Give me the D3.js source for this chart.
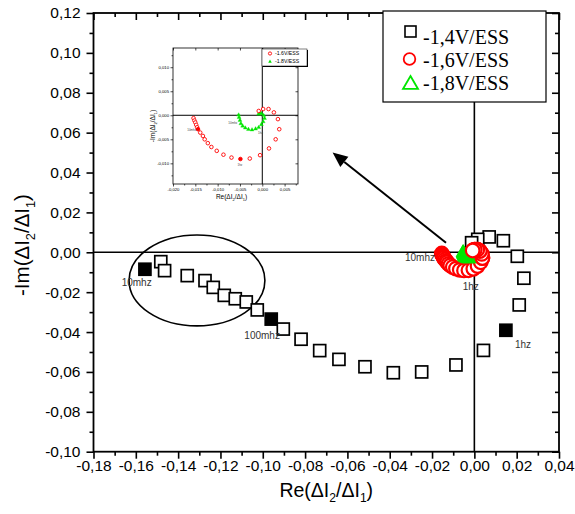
<!DOCTYPE html>
<html><head><meta charset="utf-8">
<script src="https://cdn.jsdelivr.net/npm/d3@7"></script>
<style>body{margin:0;background:#fff}svg{display:block}</style>
</head><body><svg id="c" width="575" height="514"></svg>
<script>
// ---- main axes ----
const xMajorTicks = [-0.18,-0.16,-0.14,-0.12,-0.10,-0.08,-0.06,-0.04,-0.02,0.00,0.02,0.04];
const yMajorTicks = [-0.10,-0.08,-0.06,-0.04,-0.02,0.00,0.02,0.04,0.06,0.08,0.10,0.12];
const xMinorTicks = [-0.17,-0.15,-0.13,-0.11,-0.09,-0.07,-0.05,-0.03,-0.01,0.01,0.03];
const yMinorTicks = [-0.09,-0.07,-0.05,-0.03,-0.01,0.01,0.03,0.05,0.07,0.09,0.11];
const xTitle = ["Re(ΔI", "2", "/ΔI", "1", ")"];
const yTitle = ["-Im(ΔI", "2", "/ΔI", "1", ")"];

// ---- series -1,4V/ESS (squares) ----
const re14 = [-0.1557,-0.1482,-0.1464,-0.1357,-0.1273,-0.1234,-0.1182,-0.1130,-0.1078,-0.1026,-0.0960,-0.0903,-0.0819,-0.0731,-0.0640,-0.0517,-0.0383,-0.0249,-0.0087,0.0043,0.0149,0.0212,0.0234,0.0203,0.0137,0.0070,0.0016,-0.0013];
const im14 = [-0.0085,-0.0047,-0.0092,-0.0117,-0.0142,-0.0176,-0.0216,-0.0233,-0.0249,-0.0289,-0.0335,-0.0385,-0.0436,-0.0493,-0.0537,-0.0574,-0.0604,-0.0600,-0.0565,-0.0492,-0.0391,-0.0264,-0.0130,-0.0020,0.0058,0.0077,0.0065,0.0048];
const filled14 = [0, 10, 20];

// ---- series -1,6V/ESS (circles) ----
const re16 = [-0.0154,-0.0152,-0.0150,-0.0148,-0.0146,-0.0144,-0.0139,-0.0133,-0.0129,-0.0122,-0.0114,-0.0102,-0.0087,-0.0069,-0.0049,-0.0028,-0.0005,0.0015,0.0030,0.0038,0.0035,0.0026,0.0014,0.0002,-0.0008];
const im16 = [-0.0006,-0.0011,-0.0015,-0.0020,-0.0025,-0.0029,-0.0036,-0.0043,-0.0050,-0.0058,-0.0066,-0.0074,-0.0082,-0.0088,-0.0091,-0.0090,-0.0083,-0.0069,-0.0050,-0.0029,-0.0008,0.0006,0.0013,0.0013,0.0009];
const filled16 = [5, 14];

// ---- series -1,8V/ESS (triangles) ----
const re18 = [-0.0053,-0.0052,-0.0050,-0.0048,-0.0044,-0.0038,-0.0031,-0.0023,-0.0015,-0.0008,-0.0002,0.0002,0.0005,0.0003,-0.0002,-0.0006,-0.0008];
const im18 = [0.0001,-0.0004,-0.0010,-0.0017,-0.0022,-0.0026,-0.0029,-0.0030,-0.0028,-0.0025,-0.0019,-0.0013,-0.0006,0.0000,0.0004,0.0006,0.0003];

const legendLabels = ["-1,4V/ESS", "-1,6V/ESS", "-1,8V/ESS"];

// frequency annotations (data coords, text start)
const freqText = ["10mhz", "100mhz", "10mhz", "1hz", "1hz"];
const freqRe = [-0.1667, -0.1087, -0.0328, -0.0055, 0.0192];
const freqIm = [-0.0168, -0.0436, -0.0042, -0.0189, -0.0481];

// ellipse & arrow annotations (data coords)
const ellipseC = [-0.1311, -0.0141];
const ellipseR = [0.0321, 0.0228];
const arrowFrom = [-0.0134, 0.0048];
const arrowTo = [-0.0670, 0.0500];

// ---- inset ----
const insetXMajor = [-0.020,-0.015,-0.010,-0.005,0.000,0.005];
const insetXMinor = [-0.0175,-0.0125,-0.0075,-0.0025,0.0025,0.0075];
const insetYMajor = [-0.010,-0.005,0.000,0.005,0.010];
const insetYMinor = [-0.0125,-0.0075,-0.0025,0.0025,0.0075,0.0125];
const insetLegendLabels = ["-1.6V/ESS", "-1.8V/ESS"];
const insetFreqText = ["10mhz", "10mhz", "1hz", "1hz"];
const insetFreqRe = [-0.0158, -0.0066, -0.0004, -0.0050];
const insetFreqIm = [-0.0032, -0.0018, -0.0039, -0.0105];

const svg = d3.select("#c");
const M = {l: 93.5, r: 559, t: 13, b: 451.7};
const x = d3.scaleLinear().domain([-0.18, 0.04]).range([M.l, M.r]);
const y = d3.scaleLinear().domain([-0.10, 0.12]).range([M.b, M.t]);

const loc = d3.formatLocale({decimal: ",", thousands: ".", grouping: [3], currency: ["", ""], minus: "-"});
const f2 = loc.format(".2f");
const f3 = loc.format(".3f");

const RED = "#ff0000", GREEN = "#00e600";
const SANS = "'Liberation Sans', Arial, sans-serif";

// axes
function styleAxis(g, fs) {
  g.select(".domain").remove();
  g.selectAll("line").attr("stroke", "#000").attr("stroke-width", 1.6);
  g.selectAll("text").attr("font-family", SANS).attr("font-size", fs).attr("fill", "#000");
}
svg.append("g").attr("transform", `translate(0,${M.b})`)
  .call(d3.axisBottom(x).tickValues(xMajorTicks).tickSize(7).tickPadding(1).tickFormat(f2)).call(g => styleAxis(g, 15.5));
svg.append("g").attr("transform", `translate(0,${M.b})`)
  .call(d3.axisBottom(x).tickValues(xMinorTicks).tickSize(4).tickFormat("")).call(g => styleAxis(g, 15.5));
svg.append("g").attr("transform", `translate(${M.l},0)`)
  .call(d3.axisLeft(y).tickValues(yMajorTicks).tickSize(7).tickPadding(6).tickFormat(f2)).call(g => styleAxis(g, 15.5));
svg.append("g").attr("transform", `translate(${M.l},0)`)
  .call(d3.axisLeft(y).tickValues(yMinorTicks).tickSize(4).tickFormat("")).call(g => styleAxis(g, 15.5));
svg.append("g").attr("transform", `translate(0,${M.t})`)
  .call(d3.axisTop(x).tickValues(xMajorTicks).tickSize(-7).tickFormat("")).call(g => styleAxis(g, 15.5));
svg.append("g").attr("transform", `translate(0,${M.t})`)
  .call(d3.axisTop(x).tickValues(xMinorTicks).tickSize(-4).tickFormat("")).call(g => styleAxis(g, 15.5));
svg.append("g").attr("transform", `translate(${M.r},0)`)
  .call(d3.axisRight(y).tickValues(yMajorTicks).tickSize(-7).tickFormat("")).call(g => styleAxis(g, 15.5));
svg.append("g").attr("transform", `translate(${M.r},0)`)
  .call(d3.axisRight(y).tickValues(yMinorTicks).tickSize(-4).tickFormat("")).call(g => styleAxis(g, 15.5));

// frame
svg.append("rect").attr("x", M.l).attr("y", M.t).attr("width", M.r - M.l).attr("height", M.b - M.t)
  .attr("fill", "none").attr("stroke", "#000").attr("stroke-width", 1.8);
// zero lines
svg.append("line").attr("x1", M.l).attr("x2", M.r).attr("y1", y(0)).attr("y2", y(0)).attr("stroke", "#000").attr("stroke-width", 1.6);
svg.append("line").attr("x1", x(0)).attr("x2", x(0)).attr("y1", M.t).attr("y2", M.b).attr("stroke", "#000").attr("stroke-width", 1.6);

// axis titles
function titleText(sel, parts, fs) {
  parts.forEach((p, i) => {
    const sub = i % 2 === 1;
    sel.append("tspan").text(p)
      .attr("font-size", sub ? fs * 0.62 : fs)
      .attr("dy", sub ? fs * 0.28 : (i > 0 ? -fs * 0.28 : 0));
  });
}
const xt = svg.append("text").attr("x", (M.l + M.r) / 2).attr("y", 497).attr("text-anchor", "middle")
  .attr("font-family", SANS).attr("font-size", 19.5);
titleText(xt, xTitle, 19.5);
const yt = svg.append("text").attr("transform", `translate(29,245) rotate(-90)`).attr("text-anchor", "middle")
  .attr("font-family", SANS).attr("font-size", 20.5);
titleText(yt, yTitle, 20.5);

// ellipse
svg.append("ellipse").attr("cx", x(ellipseC[0])).attr("cy", y(ellipseC[1]))
  .attr("rx", x(ellipseC[0] + ellipseR[0]) - x(ellipseC[0])).attr("ry", y(ellipseC[1]) - y(ellipseC[1] + ellipseR[1]))
  .attr("fill", "none").attr("stroke", "#000").attr("stroke-width", 1.6);

// arrow
{
  const x1 = x(arrowFrom[0]), y1 = y(arrowFrom[1]), x2 = x(arrowTo[0]), y2 = y(arrowTo[1]);
  const ang = Math.atan2(y2 - y1, x2 - x1), L = 15, W = 6.5;
  const bx = x2 - L * Math.cos(ang), by = y2 - L * Math.sin(ang);
  svg.append("line").attr("x1", x1).attr("y1", y1).attr("x2", bx).attr("y2", by).attr("stroke", "#000").attr("stroke-width", 2);
  svg.append("polygon").attr("points", [
    [x2, y2], [bx + W * Math.sin(ang), by - W * Math.cos(ang)], [bx - W * Math.sin(ang), by + W * Math.cos(ang)]
  ].map(p => p.join(",")).join(" ")).attr("fill", "#000");
}

// triangle path helper
function triPath(cx, cy, s) {
  const h = s * 0.866;
  return `M${cx},${cy - h * 0.62}L${cx + s / 2},${cy + h * 0.38}L${cx - s / 2},${cy + h * 0.38}Z`;
}

// -1,4 V squares
const S = 12;
svg.append("g").selectAll("rect").data(d3.range(re14.length)).join("rect")
  .attr("x", i => x(re14[i]) - S / 2).attr("y", i => y(im14[i]) - S / 2)
  .attr("width", S).attr("height", S)
  .attr("fill", i => filled14.includes(i) ? "#000" : "#fff")
  .attr("stroke", "#000").attr("stroke-width", 1.7);

// -1,6 V red circles
svg.append("g").selectAll("circle").data(d3.range(re16.length)).join("circle")
  .attr("cx", i => x(re16[i])).attr("cy", i => y(im16[i])).attr("r", 6.8)
  .attr("fill", "#fff").attr("stroke", RED).attr("stroke-width", 2.2);

// -1,8 V green triangles (drawn over the left part of the red horseshoe, below its right curl)
svg.append("g").selectAll("path").data(d3.range(re18.length)).join("path")
  .attr("d", i => triPath(x(re18[i]), y(im18[i]), 14))
  .attr("fill", GREEN).attr("stroke", GREEN).attr("stroke-width", 1);
svg.append("g").selectAll("circle").data(d3.range(19, re16.length)).join("circle")
  .attr("cx", i => x(re16[i])).attr("cy", i => y(im16[i])).attr("r", 6.8)
  .attr("fill", "#fff").attr("stroke", RED).attr("stroke-width", 2.2);

// frequency labels
svg.append("g").selectAll("text").data(d3.range(freqText.length)).join("text")
  .attr("x", i => x(freqRe[i])).attr("y", i => y(freqIm[i])).text(i => freqText[i])
  .attr("font-family", SANS).attr("font-size", 10).attr("fill", "#333");

// ---- inset ----
const I = {l: 173, r: 298, t: 48, b: 184};
const ix = d3.scaleLinear().domain([-0.020, 0.008]).range([I.l, I.r]);
const iy = d3.scaleLinear().domain([-0.0143, 0.0140]).range([I.b, I.t]);
const ig = svg.append("g");
function styleInset(g) {
  g.select(".domain").remove();
  g.selectAll("line").attr("stroke", "#000").attr("stroke-width", 0.7);
  g.selectAll("text").attr("font-family", SANS).attr("font-size", 4.2).attr("fill", "#000");
}
ig.append("g").attr("transform", `translate(0,${I.b})`)
  .call(d3.axisBottom(ix).tickValues(insetXMajor).tickSize(2.5).tickPadding(1.5).tickFormat(f3)).call(styleInset);
ig.append("g").attr("transform", `translate(0,${I.b})`)
  .call(d3.axisBottom(ix).tickValues(insetXMinor).tickSize(1.5).tickFormat("")).call(styleInset);
ig.append("g").attr("transform", `translate(${I.l},0)`)
  .call(d3.axisLeft(iy).tickValues(insetYMajor).tickSize(2.5).tickPadding(1.5).tickFormat(f3)).call(styleInset);
ig.append("g").attr("transform", `translate(${I.l},0)`)
  .call(d3.axisLeft(iy).tickValues(insetYMinor).tickSize(1.5).tickFormat("")).call(styleInset);
ig.append("g").attr("transform", `translate(0,${I.t})`)
  .call(d3.axisTop(ix).tickValues(insetXMajor).tickSize(-2.5).tickFormat("")).call(styleInset);
ig.append("g").attr("transform", `translate(${I.r},0)`)
  .call(d3.axisRight(iy).tickValues(insetYMajor).tickSize(-2.5).tickFormat("")).call(styleInset);
ig.append("rect").attr("x", I.l).attr("y", I.t).attr("width", I.r - I.l).attr("height", I.b - I.t)
  .attr("fill", "none").attr("stroke", "#000").attr("stroke-width", 0.8);
ig.append("line").attr("x1", I.l).attr("x2", I.r).attr("y1", iy(0)).attr("y2", iy(0)).attr("stroke", "#000").attr("stroke-width", 1);
ig.append("line").attr("x1", ix(0)).attr("x2", ix(0)).attr("y1", I.t).attr("y2", I.b).attr("stroke", "#000").attr("stroke-width", 1);

const ixt = ig.append("text").attr("x", (I.l + I.r) / 2 - 4).attr("y", 199).attr("text-anchor", "middle")
  .attr("font-family", SANS).attr("font-size", 6.5);
titleText(ixt, xTitle, 6.5);
const iyt = ig.append("text").attr("transform", `translate(155,${(I.t + I.b) / 2 + 10}) rotate(-90)`).attr("text-anchor", "middle")
  .attr("font-family", SANS).attr("font-size", 6.5);
titleText(iyt, yTitle, 6.5);

ig.append("g").selectAll("path").data(d3.range(re18.length)).join("path")
  .attr("d", i => triPath(ix(re18[i]), iy(im18[i]), 4))
  .attr("fill", GREEN).attr("stroke", GREEN).attr("stroke-width", 0.3);
ig.append("g").selectAll("circle").data(d3.range(re16.length)).join("circle")
  .attr("cx", i => ix(re16[i])).attr("cy", i => iy(im16[i])).attr("r", 1.8)
  .attr("fill", i => filled16.includes(i) ? RED : "#fff").attr("stroke", RED).attr("stroke-width", 0.9);
ig.append("g").selectAll("text").data(d3.range(insetFreqText.length)).join("text")
  .attr("x", i => ix(insetFreqRe[i])).attr("y", i => iy(insetFreqIm[i])).attr("text-anchor", "middle").text(i => insetFreqText[i])
  .attr("font-family", SANS).attr("font-size", 3).attr("fill", "#444");

// inset legend
{
  const lx = 262, ly = 49, lw = 45, lh = 17;
  ig.append("rect").attr("x", lx + 1).attr("y", ly + 1).attr("width", lw).attr("height", lh).attr("fill", "#000");
  ig.append("rect").attr("x", lx).attr("y", ly).attr("width", lw).attr("height", lh).attr("fill", "#fff").attr("stroke", "#000").attr("stroke-width", 0.5);
  ig.append("circle").attr("cx", lx + 8).attr("cy", ly + 4.5).attr("r", 1.6).attr("fill", "#fff").attr("stroke", RED).attr("stroke-width", 0.9);
  ig.append("path").attr("d", triPath(lx + 8, ly + 12.5, 3.5)).attr("fill", GREEN);
  ig.selectAll("text.il").data(insetLegendLabels).join("text").attr("class", "il")
    .attr("x", lx + 13).attr("y", (d, i) => ly + 6.3 + i * 8).text(d => d)
    .attr("font-family", SANS).attr("font-size", 5.2);
}

// main legend
{
  const lx = 383, ly = 11, lw = 163, lh = 91;
  svg.append("rect").attr("x", lx).attr("y", ly).attr("width", lw).attr("height", lh).attr("fill", "#fff").attr("stroke", "#000").attr("stroke-width", 1.2);
  svg.append("rect").attr("x", 405).attr("y", 26).attr("width", 11).attr("height", 11).attr("fill", "#fff").attr("stroke", "#000").attr("stroke-width", 1.6);
  svg.append("circle").attr("cx", 409.5).attr("cy", 59).attr("r", 5.8).attr("fill", "none").attr("stroke", RED).attr("stroke-width", 1.8);
  svg.append("path").attr("d", triPath(410.5, 84, 15)).attr("fill", "none").attr("stroke", GREEN).attr("stroke-width", 1.8);
  svg.selectAll("text.lg").data(legendLabels).join("text").attr("class", "lg")
    .attr("x", 423).attr("y", (d, i) => 44 + i * 22.8).text(d => d)
    .attr("font-family", "'Liberation Serif', 'Times New Roman', serif").attr("font-size", 20).attr("fill", "#000");
}
</script></body></html>
